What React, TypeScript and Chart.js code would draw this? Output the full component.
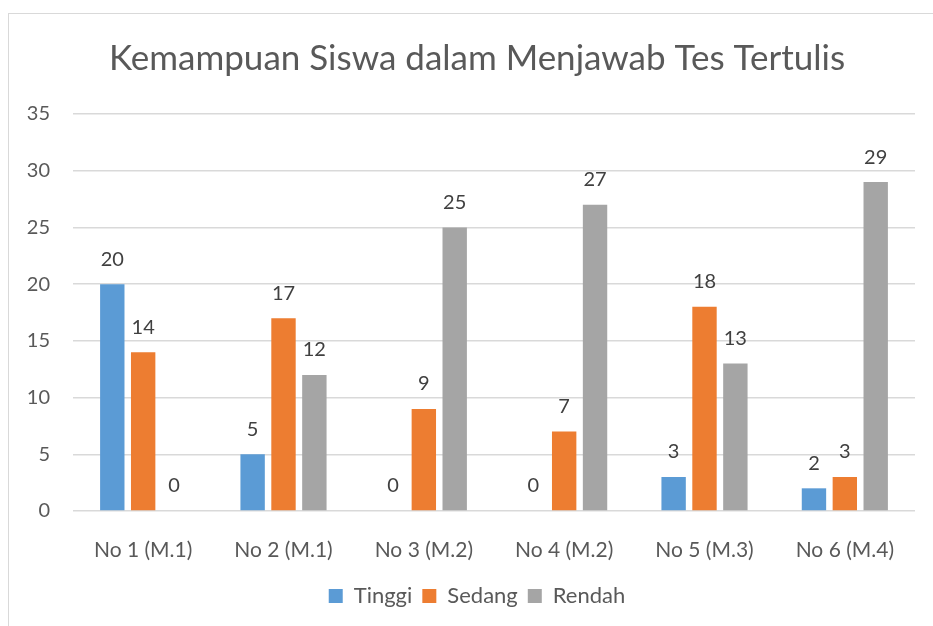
import React, { useEffect, useRef } from "react";
import { Chart, registerables } from "chart.js";

Chart.register(...registerables);

const TITLE = "Kemampuan Siswa dalam Menjawab Tes Tertulis";
const categories = ["No 1 (M.1)", "No 2 (M.1)", "No 3 (M.2)", "No 4 (M.2)", "No 5 (M.3)", "No 6 (M.4)"];
const tinggi = [20, 5, 0, 0, 3, 2];
const sedang = [14, 17, 9, 7, 18, 3];
const rendah = [0, 12, 25, 27, 13, 29];
const seriesNames = ["Tinggi", "Sedang", "Rendah"];
const seriesColors = ["#5B9BD5", "#ED7D31", "#A5A5A5"];

const FONT = "Lato, 'Open Sans', sans-serif";

const valueLabels = {
  id: "valueLabels",
  afterDatasetsDraw(chart: any) {
    const ctx = chart.ctx;
    ctx.save();
    ctx.font = `20px ${FONT}`;
    ctx.fillStyle = "#404040";
    ctx.textAlign = "center";
    ctx.textBaseline = "middle";
    chart.data.datasets.forEach((ds: any, i: number) => {
      const meta = chart.getDatasetMeta(i);
      meta.data.forEach((bar: any, j: number) => {
        ctx.fillText(String(ds.data[j]), bar.x, bar.y - 25);
      });
    });
    ctx.restore();
  },
};

export default function App() {
  const ref = useRef<HTMLCanvasElement>(null);
  useEffect(() => {
    if (!ref.current) return;
    const data = [tinggi, sedang, rendah];
    const chart = new Chart(ref.current, {
      type: "bar",
      data: {
        labels: categories,
        datasets: data.map((d, i) => ({
          label: seriesNames[i],
          data: d,
          backgroundColor: seriesColors[i],
          borderWidth: 0,
          categoryPercentage: 0.66,
          barPercentage: 0.79,
        })),
      },
      options: {
        animation: false,
        responsive: false,
        layout: { padding: { top: 13, right: 0, bottom: 9, left: 0 } },
        plugins: {
          title: {
            display: true,
            text: TITLE,
            color: "#595959",
            font: { family: FONT, size: 35, weight: "normal" },
            padding: { top: 25, bottom: 34 },
          },
          legend: {
            position: "bottom",
            labels: {
              color: "#595959",
              font: { family: FONT, size: 22 },
              boxWidth: 14,
              boxHeight: 14,
              padding: 10,
            },
          },
          tooltip: { enabled: false },
        },
        scales: {
          x: {
            grid: { display: false },
            border: { display: false },
            ticks: { color: "#595959", font: { family: FONT, size: 21 }, padding: 19 },
            afterFit: (s: any) => { s.height = 64; },
          },
          y: {
            min: 0,
            max: 35,
            ticks: { stepSize: 5, color: "#595959", font: { family: FONT, size: 20 }, padding: 23 },
            grid: { color: "#D9D9D9", lineWidth: 1.5, drawTicks: false },
            border: { display: false },
            afterFit: (s: any) => { s.width = 73; },
          },
          yRight: {
            position: "right",
            min: 0,
            max: 35,
            ticks: { display: false },
            grid: { display: false },
            border: { display: false },
            afterFit: (s: any) => { s.width = 39; },
          },
        },
      },
      plugins: [valueLabels],
    });
    return () => chart.destroy();
  }, []);
  return (
    <div style={{ position: "fixed", left: 0, top: 0, width: 933, height: 626, background: "#fff", overflow: "hidden" }}>
      <div style={{ position: "absolute", left: 8, top: 13, width: 1000, height: 1000, border: "1px solid #D9D9D9" }} />
      <canvas ref={ref} width={954} height={626} style={{ position: "absolute", left: 0, top: 0 }} />
    </div>
  );
}
